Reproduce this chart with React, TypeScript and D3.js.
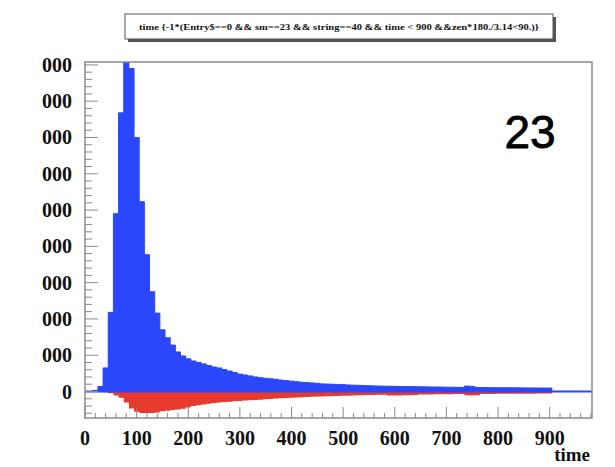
import React from "react";
import * as d3 from "d3";

const W = 615;
const H = 467;
const frame = { left: 85, right: 592, top: 62, bottom: 418 };

const titleText = "time {-1*(Entry$==0 && sm==23 && string==40 && time < 900 &&zen*180./3.14<90.)}";
const bigLabel = "23";
const xAxisTitle = "time";

const binStart = 5;
const binWidth = 10;
const xDomain = [0, 982];
const yDomain = [-730, 9080];
const xTickLabels = [0, 100, 200, 300, 400, 500, 600, 700, 800, 900];
const yTickValues = [0, 1000, 2000, 3000, 4000, 5000, 6000, 7000, 8000, 9000];
// the visible part of the y labels (leading digits are cut off in the original)
const yTickLabels = ["0", "000", "000", "000", "000", "000", "000", "000", "000", "000"];

// blue histogram, bins of width 10 starting at 5
const blueCounts = [
  0, 30, 140, 650, 2180, 4900, 7680, 9500, 8900, 7000,
  5230, 3770, 2750, 2160, 1700, 1480, 1280, 1090, 980, 900,
  840, 800, 760, 715, 675, 650, 605, 565, 525, 480,
  455, 430, 400, 380, 365, 350, 335, 315, 300, 285,
  270, 255, 245, 235, 225, 210, 205, 200, 195, 190,
  180, 175, 170, 165, 160, 155, 150, 148, 145, 142,
  140, 138, 136, 134, 130, 128, 126, 124, 122, 120,
  118, 116, 114, 150, 140, 112, 110, 108, 106, 105,
  104, 103, 102, 101, 100, 99, 98, 96, 95, 94,
];

// red histogram (negative), same bins
const redCounts = [
  0, 0, -5, -20, -50, -110, -170, -300, -470, -560,
  -590, -595, -590, -580, -545, -530, -510, -495, -475, -440,
  -400, -380, -360, -340, -320, -305, -290, -280, -270, -260,
  -250, -240, -232, -225, -215, -205, -195, -185, -180, -172,
  -165, -158, -150, -145, -140, -135, -130, -125, -122, -118,
  -114, -110, -106, -102, -98, -95, -92, -90, -110, -110,
  -108, -105, -100, -98, -85, -82, -80, -78, -76, -75,
  -74, -72, -70, -100, -110, -105, -70, -68, -66, -65,
  -64, -63, -62, -61, -60, -60, -59, -58, -57, -56,
];

const BLUE = "#2b47fb";
const RED = "#e63a2f";
const AXIS = "#8a8a8a";

export default function App() {
  const x = d3.scaleLinear().domain(xDomain).range([frame.left, frame.right]);
  const y = d3.scaleLinear().domain(yDomain).range([frame.bottom, frame.top]);

  const stepPoints = (vals: number[]) => {
    const pts = vals.map((v, i) => [binStart + i * binWidth, v] as [number, number]);
    pts.push([binStart + vals.length * binWidth, vals[vals.length - 1]]);
    return pts;
  };
  const area = d3
    .area<[number, number]>()
    .x((d) => x(d[0]))
    .y0(() => y(0))
    .y1((d) => y(d[1]))
    .curve(d3.curveStepAfter);

  const line = d3
    .line<[number, number]>()
    .x((d) => x(d[0]))
    .y((d) => y(d[1]))
    .curve(d3.curveStepAfter);

  const bluePts = stepPoints(blueCounts);
  const redPts = stepPoints(redCounts);

  const xMinor = d3.range(0, xDomain[1], 20);
  const yMinor = d3.range(-600, yDomain[1], 200);

  const serif = "'Liberation Serif', 'DejaVu Serif', serif";

  return (
    <svg
      width={W}
      height={H}
      style={{ position: "absolute", left: 0, top: 0, background: "#fff" }}
    >
      <defs>
        <clipPath id="frameClip">
          <rect x={frame.left} y={frame.top} width={frame.right - frame.left} height={frame.bottom - frame.top} />
        </clipPath>
      </defs>
      <rect width={W} height={H} fill="#fff" />

      {/* title box */}
      <rect x={128} y={17} width={428} height={25} fill="#555" />
      <rect x={125} y={14} width={428} height={25} fill="#fff" stroke="#555" strokeWidth={1} />
      <text
        x={339}
        y={30}
        textAnchor="middle"
        fontFamily={serif}
        fontWeight="bold"
        fontSize={8.5}
        textLength={400}
        lengthAdjust="spacingAndGlyphs"
        fill="#111"
      >
        {titleText}
      </text>

      {/* histograms */}
      <g clipPath="url(#frameClip)">
        <path d={area(redPts) || ""} fill={RED} />
        <path d={area(bluePts) || ""} fill={BLUE} />
        <path d={line(bluePts) || ""} fill="none" stroke={BLUE} strokeWidth={1} />
        <line x1={x(0)} x2={x(xDomain[1])} y1={y(0)} y2={y(0)} stroke={BLUE} strokeWidth={2} />
      </g>

      {/* frame */}
      <rect
        x={frame.left}
        y={frame.top}
        width={frame.right - frame.left}
        height={frame.bottom - frame.top}
        fill="none"
        stroke={AXIS}
        strokeWidth={1.5}
      />

      {/* x ticks */}
      {xMinor.map((t) => {
        const major = t % 100 === 0;
        return (
          <line
            key={"xt" + t}
            x1={x(t)}
            x2={x(t)}
            y1={frame.bottom}
            y2={frame.bottom - (major ? 11 : 5)}
            stroke={AXIS}
            strokeWidth={1}
          />
        );
      })}
      {/* y ticks */}
      {yMinor.map((t) => {
        const major = t % 1000 === 0;
        return (
          <line
            key={"yt" + t}
            x1={frame.left}
            x2={frame.left + (major ? 13 : 7)}
            y1={y(t)}
            y2={y(t)}
            stroke={AXIS}
            strokeWidth={1}
          />
        );
      })}

      {/* x labels */}
      {xTickLabels.map((t) => (
        <text
          key={"xl" + t}
          x={x(t)}
          y={445}
          textAnchor="middle"
          fontFamily={serif}
          fontWeight="bold"
          fontSize={20}
          fill="#111"
        >
          {t}
        </text>
      ))}
      {/* y labels */}
      {yTickValues.map((t, i) => (
        <text
          key={"yl" + t}
          x={72}
          y={y(t) + 7}
          textAnchor="end"
          fontFamily={serif}
          fontWeight="bold"
          fontSize={20}
          fill="#111"
        >
          {yTickLabels[i]}
        </text>
      ))}

      <text
        x={590}
        y={461}
        textAnchor="end"
        fontFamily={serif}
        fontWeight="bold"
        fontSize={19}
        fill="#111"
      >
        {xAxisTitle}
      </text>

      <text
        x={530}
        y={148}
        textAnchor="middle"
        fontFamily="'Liberation Sans', Arial, sans-serif"
        fontSize={46}
        fill="#000"
        stroke="#000"
        strokeWidth={0.8}
      >
        {bigLabel}
      </text>
    </svg>
  );
}
